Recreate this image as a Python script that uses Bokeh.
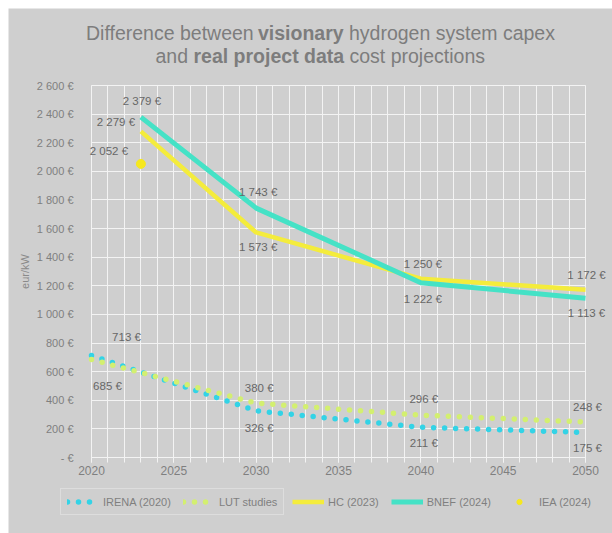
from bokeh.plotting import figure
from bokeh.models import (Range1d, FixedTicker, SingleIntervalTicker, Label,
                          Legend, LegendItem, ColumnDataSource)
from bokeh.core.properties import value
from bokeh.embed import file_html
from bokeh.resources import INLINE

# ---------------- data ----------------
irena_years = [2020, 2030, 2040, 2050]
irena_values = [713, 326, 211, 175]
lut_years = [2020, 2030, 2040, 2050]
lut_values = [685, 380, 296, 248]
hc_years = [2023, 2030, 2040, 2050]
hc_values = [2279, 1573, 1250, 1172]
bnef_years = [2023, 2030, 2040, 2050]
bnef_values = [2379, 1743, 1222, 1113]
iea_years = [2023]
iea_values = [2052]

x_start, x_end = 2020, 2050
y_start, y_end = 0, 2600
y_ticks = [0, 200, 400, 600, 800, 1000, 1200, 1400, 1600, 1800, 2000, 2200, 2400, 2600]
y_tick_labels = ["- €", "200 €", "400 €", "600 €", "800 €", "1 000 €", "1 200 €",
                 "1 400 €", "1 600 €", "1 800 €", "2 000 €", "2 200 €", "2 400 €", "2 600 €"]
series_names = ["IRENA (2020)", "LUT studies", "HC (2023)", "BNEF (2024)", "IEA (2024)"]
y_axis_title = "eur/kW"

# ---------------- styles / layout ----------------
BG = "#cfcfcf"
GRID = "#f3f3f3"
TICK_TXT = "#7f7f7f"
LABEL_TXT = "#676767"
TITLE_TXT = "#7d7d7d"
C_IRENA = "#33d3e6"
C_LUT = "#d3ef70"
C_HC = "#f4ec3c"
C_BNEF = "#45e2c6"
C_IEA = "#f6e81e"
FONT = "Liberation Sans"

W, H = 604, 525
# plot area inside the canvas (pixels)
PA_LEFT, PA_RIGHT, PA_TOP, PA_BOTTOM = 83, 577, 77, 449
kx = (PA_RIGHT - PA_LEFT) / (x_end - x_start)
ky = (PA_BOTTOM - PA_TOP) / (y_end - y_start)
xr = Range1d(x_start - PA_LEFT / kx, x_end + (W - PA_RIGHT) / kx)
yr = Range1d(y_start - (H - PA_BOTTOM) / ky, y_end + PA_TOP / ky)

p = figure(width=W, height=H, output_backend="svg", toolbar_location=None,
           x_range=xr, y_range=yr, min_border=0, margin=(8, 0, 0, 8),
           background_fill_color=BG, border_fill_color=BG, outline_line_color=None)

# x axis (drawn at y = 0)
xax = p.xaxis[0]
xax.fixed_location = y_start
xax.bounds = (x_start, x_end)
xax.ticker = SingleIntervalTicker(interval=5, num_minor_ticks=5)
xax.axis_line_color = GRID
xax.major_tick_line_color = GRID
xax.minor_tick_line_color = GRID
xax.major_tick_out = 5
xax.major_tick_in = 0
xax.minor_tick_out = 5
xax.minor_tick_in = 0
xax.major_label_standoff = 3
xax.major_label_text_font = FONT
xax.major_label_text_font_size = "12px"
xax.major_label_text_color = TICK_TXT

# y axis (drawn at x = 2020)
yax = p.yaxis[0]
yax.fixed_location = x_start
yax.bounds = (y_start, y_end)
yax.ticker = FixedTicker(ticks=y_ticks)
yax.major_label_overrides = {t: s for t, s in zip(y_ticks, y_tick_labels)}
yax.axis_line_color = None
yax.major_tick_line_color = None
yax.minor_tick_line_color = None
yax.major_label_standoff = 12
yax.major_label_text_font = FONT
yax.major_label_text_font_size = "11px"
yax.major_label_text_color = TICK_TXT
yax.axis_label = y_axis_title
yax.axis_label_text_font = FONT
yax.axis_label_text_font_size = "11px"
yax.axis_label_text_font_style = "normal"
yax.axis_label_text_color = "#8a8a8a"
yax.axis_label_standoff = 3

# grids restricted to the plot area
xg, yg = p.xgrid[0], p.ygrid[0]
xg.grid_line_color = GRID
xg.minor_grid_line_color = GRID
yg.grid_line_color = GRID
xg.bounds = (x_start, x_end)
yg.bounds = (y_start, y_end)
try:
    xg.cross_bounds = (y_start, y_end)
    yg.cross_bounds = (x_start, x_end)
except AttributeError:
    pass

# ---------------- series ----------------
r_irena = p.line(irena_years, irena_values, line_color=C_IRENA, line_width=5.5,
                 line_dash="0 11", line_cap="round")
r_lut = p.line(lut_years, lut_values, line_color=C_LUT, line_width=5.5,
               line_dash="0 11", line_cap="round")
r_hc = p.line(hc_years, hc_values, line_color=C_HC, line_width=4.5)
r_bnef = p.line(bnef_years, bnef_values, line_color=C_BNEF, line_width=5)
r_iea = p.scatter(iea_years, iea_values, marker="circle", size=9,
                  fill_color=C_IEA, line_color=C_IEA)

# ---------------- data labels ----------------
def fmt(v):
    return f"{v:,} €".replace(",", " ")

lab_x = bnef_years + hc_years + iea_years + irena_years + lut_years
lab_y = bnef_values + hc_values + iea_values + irena_values + lut_values
# pixel offsets of each label from its point (x right, y down)
off_x = [1, 2, 2, 1,   -25, 2, 2, 1,   -32,   35, 3, 3, 2,   16, 3, 3, 2]
off_y = [-16, -16, 16, 15,   -9, 15, -15, -15,   -13,   -18, 17, 16, 16,   27, -15, -16, -15]
lab_src = ColumnDataSource(dict(x=lab_x, y=lab_y, text=[fmt(v) for v in lab_y],
                                dx=off_x, dy=off_y))
p.text(x="x", y="y", text="text", x_offset="dx", y_offset="dy", source=lab_src,
       text_font=value(FONT), text_font_size="11.5px", text_align="center",
       text_baseline="middle", text_color=LABEL_TXT)

# ---------------- title (mixed bold), canvas pixels from bottom-left ----------------
title_parts = [
    ("Difference between", "normal", 77.5, 501),
    ("visionary", "bold", 249.5, 501),
    ("hydrogen system capex", "normal", 340.5, 501),
    ("and", "normal", 147, 478),
    ("real project data", "bold", 185, 478),
    ("cost projections", "normal", 341, 478),
]
for txt, style, tx, ty in title_parts:
    p.add_layout(Label(x=tx, y=ty, x_units="screen", y_units="screen", text=txt,
                       text_font=FONT, text_font_size="19.5px", text_font_style=style,
                       text_color=TITLE_TXT, text_align="left", text_baseline="alphabetic"))

# ---------------- legends ----------------
def make_legend(items, loc, border):
    return Legend(items=items, location=loc, orientation="horizontal",
                  padding=6, margin=0, spacing=12, label_standoff=4,
                  glyph_width=32, glyph_height=13, label_height=13,
                  label_text_font=FONT, label_text_font_size="11px",
                  label_text_color=TICK_TXT, background_fill_alpha=0,
                  border_line_color=border, border_line_width=1.5)

leg_a = make_legend([LegendItem(label=series_names[0], renderers=[r_irena]),
                     LegendItem(label=series_names[1], renderers=[r_lut])],
                    (52, 18), "#ebebeb")
leg_b = make_legend([LegendItem(label=series_names[2], renderers=[r_hc]),
                     LegendItem(label=series_names[3], renderers=[r_bnef]),
                     LegendItem(label=series_names[4], renderers=[r_iea])],
                    (277, 18), BG)
p.add_layout(leg_a)
p.add_layout(leg_b)

open("out.html", "w").write(file_html(p, INLINE))
